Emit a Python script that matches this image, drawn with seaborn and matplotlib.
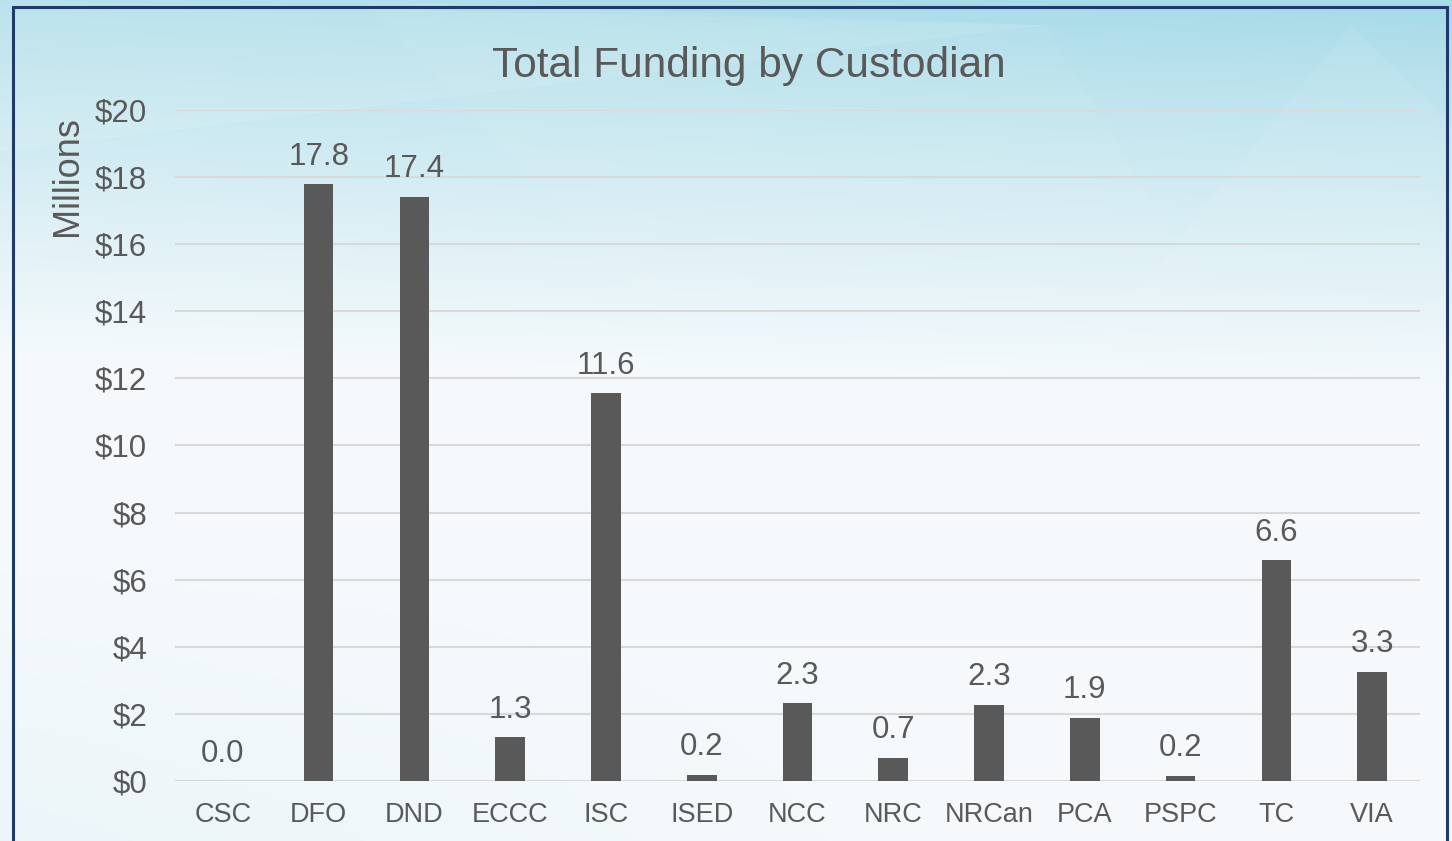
import numpy as np
import pandas as pd
import matplotlib
matplotlib.use("Agg")
import matplotlib.pyplot as plt
from matplotlib.patches import Polygon, Rectangle
import seaborn as sns

# -----------------------------
# DATA
# -----------------------------
custodians = ["CSC", "DFO", "DND", "ECCC", "ISC", "ISED", "NCC",
              "NRC", "NRCan", "PCA", "PSPC", "TC", "VIA"]
funding = [0.0, 17.78, 17.42, 1.31, 11.56, 0.19, 2.32,
           0.69, 2.27, 1.88, 0.16, 6.58, 3.26]
y_ticks = [0, 2, 4, 6, 8, 10, 12, 14, 16, 18, 20]

df = pd.DataFrame({"Custodian": custodians, "Funding": funding})

# -----------------------------
# STYLE
# -----------------------------
sns.set_theme(style="white")
plt.rcParams["font.family"] = ["Liberation Sans", "DejaVu Sans"]
TEXT = "#595959"
BAR = "#595959"
GRID = "#d9d9d9"

fig = plt.figure(figsize=(14.52, 8.41), dpi=100)

# -----------------------------
# BACKGROUND (soft blue gradient)
# -----------------------------
bg = fig.add_axes([0, 0, 1, 1], zorder=-10)
h, w = 300, 500
yy, xx = np.mgrid[0:1:complex(0, h), 0:1:complex(0, w)]
top = np.array([0.66, 0.86, 0.91])
mid = np.array([0.965, 0.98, 0.988])
t = np.clip((yy - 0.02) / 0.45 + 0.15 * (1 - xx) * (1 - yy), 0, 1) ** 0.85
img = top[None, None, :] * (1 - t[..., None]) + mid[None, None, :] * t[..., None]
# slight blue tint toward bottom-left
tint = np.clip((yy - 0.6) / 0.4, 0, 1) * np.clip(1 - xx * 1.4, 0, 1) * 0.35
img = img * (1 - tint[..., None]) + np.array([0.85, 0.93, 0.96])[None, None, :] * tint[..., None]
bg.imshow(img, extent=[0, 1, 0, 1], aspect="auto", origin="upper")
# faint light shapes
for pts, a in [
    ([(0.0, 0.82), (0.72, 0.97), (0.0, 1.0)], 0.10),
    ([(0.25, 1.0), (0.72, 0.97), (0.85, 0.6), (0.55, 0.45)], 0.05),
    ([(0.62, 0.3), (1.0, 0.3), (1.0, 0.85), (0.93, 0.97)], 0.07),
]:
    bg.add_patch(Polygon(pts, closed=True, facecolor="white", edgecolor="none", alpha=a))
bg.set_xlim(0, 1)
bg.set_ylim(0, 1)
bg.axis("off")

# navy frame
fig.patches.append(Rectangle((13 / 1452, -0.05), 1434 / 1452, 1.05 - 7 / 841,
                             transform=fig.transFigure, fill=False,
                             edgecolor="#1f3a6b", linewidth=2.2, zorder=5))

# -----------------------------
# BAR CHART
# -----------------------------
ax = fig.add_axes([175 / 1452, 1 - 781 / 841, (1420 - 175) / 1452, (781 - 110) / 841])
ax.set_facecolor("none")
sns.barplot(data=df, x="Custodian", y="Funding", color=BAR, saturation=1,
            width=0.31, linewidth=0, ax=ax, zorder=3)

ax.set_ylim(0, 20)
ax.set_yticks(y_ticks)
ax.set_yticklabels([f"${v}" for v in y_ticks])
ax.set_xlim(-0.5, len(custodians) - 0.5)
ax.grid(axis="y", color=GRID, linewidth=1.5, zorder=0)
ax.set_axisbelow(True)
for s in ax.spines.values():
    s.set_visible(False)
ax.set_xlabel("")
ax.set_ylabel("")
ax.tick_params(axis="y", length=0, pad=20, labelsize=22.5, labelcolor=TEXT)
ax.tick_params(axis="x", length=0, pad=15, labelsize=19.5, labelcolor=TEXT)

ax.bar_label(ax.containers[0], labels=[f"{v:.1f}" for v in funding],
             padding=9, fontsize=22.5, color=TEXT)

# -----------------------------
# TITLE + AXIS LABEL
# -----------------------------
fig.text(749 / 1452, 1 - 66 / 841, "Total Funding by Custodian",
         ha="center", va="center", fontsize=30.5, color=TEXT)
fig.text(67 / 1452, 1 - 176 / 841, "Millions", rotation=90,
         ha="center", va="center", fontsize=26, color=TEXT)

plt.savefig("out.png", dpi=100)
